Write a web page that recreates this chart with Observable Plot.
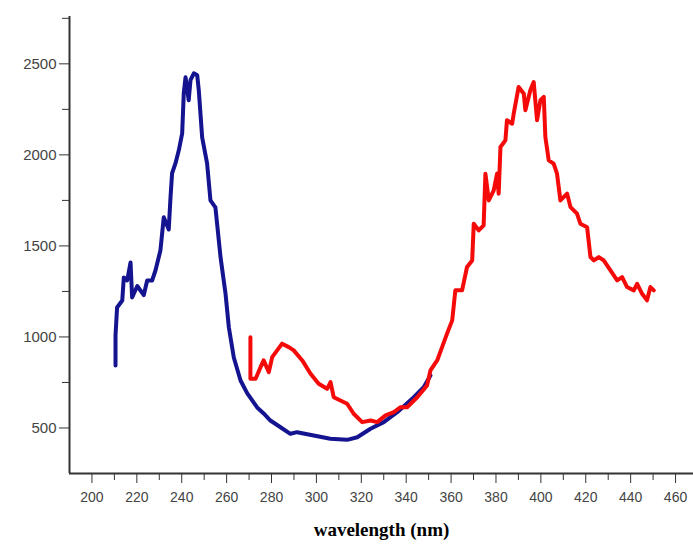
<!DOCTYPE html>
<html>
<head>
<meta charset="utf-8">
<script src="https://cdn.jsdelivr.net/npm/d3@7"></script>
<script src="https://cdn.jsdelivr.net/npm/@observablehq/plot@0.6"></script>
<style>
  html, body { margin: 0; padding: 0; background: #fff; }
  svg { display: block; }
</style>
</head>
<body>
<div id="chart"></div>
<script>
// Blue spectrum (wavelength nm, intensity)
const blueX = [210.5,210.5,211.2,213.5,214.2,215.7,217.2,217.9,220.2,223.1,224.6,226.8,228.3,230.5,232,234.2,235,235.7,237.2,238.7,240.2,240.9,241.7,243.1,243.9,245.4,246.9,247.6,249.1,251.3,252.8,255,257.3,259.5,261,263.2,266.2,269.2,273.6,276.5,279.5,284,288.4,291.4,298.8,306.2,313.7,318.2,324.1,330,336,343.4,347.8,350.8];
const blueY = [843,1008,1162,1200,1327,1310,1409,1217,1280,1230,1310,1310,1365,1475,1657,1590,1767,1899,1953,2025,2118,2338,2426,2300,2410,2448,2437,2355,2096,1953,1750,1712,1437,1239,1052,887,761,690,613,580,541,504,468,477,459,441,435,449,496,532,587,669,724,788];

// Red spectrum (wavelength nm, intensity)
const redX = [270.6,270.6,272.9,275.1,276.5,278.8,280.3,282.5,284.7,287.7,289.9,293.7,297.4,301,304.8,306.3,307.7,310.7,313.7,316.6,320.4,324.1,327.1,330.8,334.5,337.4,340.4,344.9,349.3,350.8,353.8,356,358.2,360.5,361.9,364.9,367.1,369.4,370.1,372.3,374.5,375.3,376.8,379,380.5,381.2,382,384.2,384.9,387.2,387.9,390.1,392.4,393.1,395.3,396.8,398.3,399.8,401.3,402,403.5,405.7,407.2,408.7,411.7,413.2,416.1,417.6,420.6,422.1,423.6,425.8,428,431,434,436.2,438.4,441.4,442.9,445.1,447.3,448.8,450.3];
const redY = [999,770,770,834,871,807,889,926,963,944,926,871,798,743,715,752,669,651,633,578,532,541,532,569,587,614,614,669,734,816,871,944,1018,1091,1256,1256,1384,1420,1622,1585,1613,1897,1750,1805,1897,1787,2043,2080,2190,2171,2226,2373,2336,2245,2355,2400,2190,2300,2318,2098,1970,1952,1897,1750,1787,1713,1677,1622,1603,1439,1420,1439,1420,1365,1311,1329,1274,1256,1292,1237,1201,1274,1256];

const yTickLabels = [500, 1000, 1500, 2000, 2500];
const yMinorTicks = [750, 1250, 1750, 2250, 2750];
const xTickLabels = [200, 220, 240, 260, 280, 300, 320, 340, 360, 380, 400, 420, 440, 460];
const xMinorTicks = [210, 230, 250, 270, 290, 310, 330, 350, 370, 390, 410, 430, 450];
const xTitle = "wavelength (nm)";

const blue = blueX.map((x, i) => ({x, y: blueY[i]}));
const red = redX.map((x, i) => ({x, y: redY[i]}));

const axisColor = "#333";
const labelColor = "#444";

const chart = Plot.plot({
  width: 693,
  height: 548,
  marginLeft: 69,
  marginRight: 0,
  marginTop: 16,
  marginBottom: 75,
  style: {fontFamily: "Liberation Sans, Arial, sans-serif", fontSize: "14px", background: "#fff"},
  x: {domain: [190, 468]},
  y: {domain: [250, 2760]},
  marks: [
    Plot.axisY({ticks: yTickLabels, tickSize: 10, tickPadding: 3, tickFormat: d3.format("d"), stroke: axisColor, fill: labelColor, fontSize: 15, label: null, style: {letterSpacing: "2.5px"}}),
    Plot.axisY({ticks: yMinorTicks, tickSize: 7, stroke: axisColor, text: null, label: null}),
    Plot.axisX({ticks: xTickLabels, tickSize: 10, tickPadding: 9, tickFormat: d3.format("d"), stroke: axisColor, fill: labelColor, fontSize: 14, label: null, style: {letterSpacing: "2px"}}),
    Plot.axisX({ticks: xMinorTicks, tickSize: 7, stroke: axisColor, text: null, label: null}),
    Plot.ruleX([190], {stroke: axisColor, strokeWidth: 2}),
    Plot.ruleY([250], {stroke: axisColor, strokeWidth: 2}),
    Plot.line(blue, {x: "x", y: "y", stroke: "#141490", strokeWidth: 4, curve: "linear"}),
    Plot.line(red, {x: "x", y: "y", stroke: "#f50a0a", strokeWidth: 4, curve: "linear"}),
    Plot.text([xTitle], {frameAnchor: "bottom", dy: 62, text: d => d, fontFamily: "Liberation Serif, Times New Roman, serif", fontWeight: "bold", fontSize: 19, fill: "#000"})
  ]
});
document.getElementById("chart").append(chart);
</script>
</body>
</html>
